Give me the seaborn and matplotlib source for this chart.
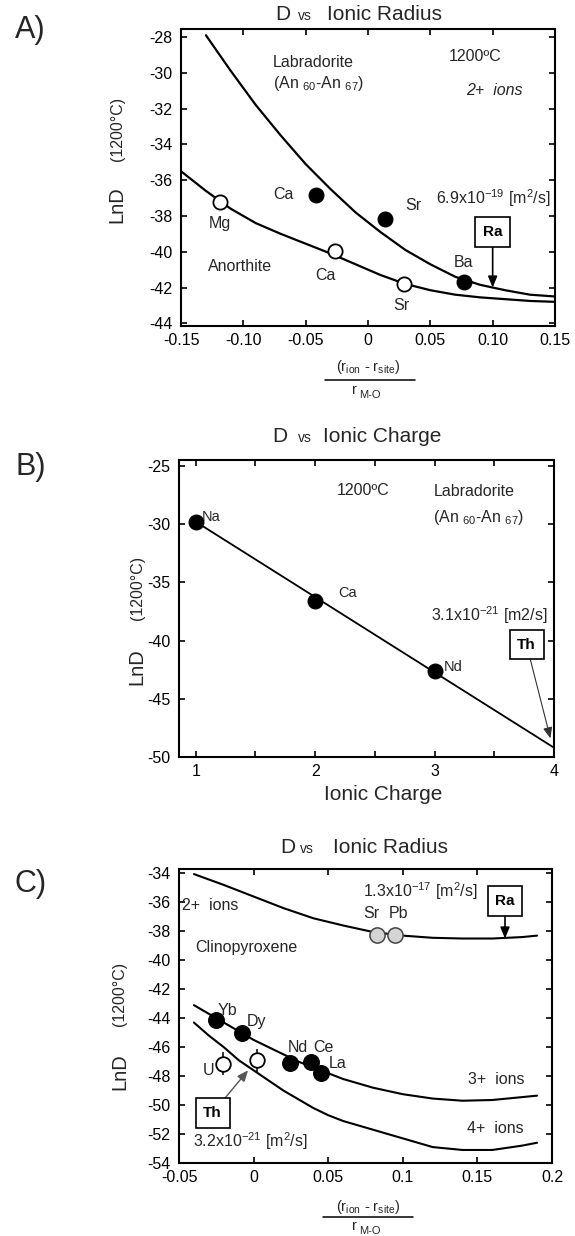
import matplotlib
matplotlib.use("Agg")
import matplotlib.pyplot as plt
import seaborn as sns
from matplotlib.lines import Line2D

sns.set_theme(style="ticks")
plt.rcParams["font.family"] = ["Liberation Sans", "DejaVu Sans"]
plt.rcParams["mathtext.fontset"] = "custom"
plt.rcParams["mathtext.rm"] = "Liberation Sans"
plt.rcParams["mathtext.it"] = "Liberation Sans:italic"
plt.rcParams["mathtext.default"] = "regular"
plt.rcParams["axes.unicode_minus"] = False

# ---------------- data ----------------
# A) plagioclase, 2+ ions vs normalised lattice strain
a_lab_fit_x = [-0.13, -0.11, -0.09, -0.07, -0.05, -0.03, -0.01, 0.01, 0.03,
               0.05, 0.07, 0.09, 0.11, 0.13, 0.15]
a_lab_fit_y = [-27.9, -29.9, -31.8, -33.5, -35.1, -36.5, -37.8, -38.9, -39.9,
               -40.7, -41.4, -41.85, -42.15, -42.4, -42.5]
a_an_fit_x = [-0.15, -0.13, -0.11, -0.09, -0.07, -0.05, -0.03, -0.01, 0.01,
              0.03, 0.05, 0.07, 0.09, 0.11, 0.13, 0.15]
a_an_fit_y = [-35.5, -36.6, -37.6, -38.4, -39.0, -39.55, -40.1, -40.7, -41.3,
              -41.8, -42.15, -42.4, -42.55, -42.65, -42.75, -42.8]
a_lab_ions = ["Ca", "Sr", "Ba"]
a_lab_strain = [-0.042, 0.0137, 0.077]
a_lab_lnD = [-36.85, -38.15, -41.7]
a_an_ions = ["Mg", "Ca", "Sr"]
a_an_strain = [-0.1185, -0.0266, 0.029]
a_an_lnD = [-37.2, -39.95, -41.8]
a_ra_strain, a_ra_lnD = 0.10, -42.0

# B) labradorite, lnD vs ionic charge
b_ions = ["Na", "Ca", "Nd"]
b_charge = [1, 2, 3]
b_lnD = [-29.8, -36.6, -42.6]
b_fit_charge = [1, 4]
b_fit_lnD = [-29.8, -49.2]
b_th_charge, b_th_lnD = 3.97, -48.4

# C) clinopyroxene, 2+, 3+, 4+ ions
c2_fit_x = [-0.04, -0.02, 0.0, 0.02, 0.04, 0.06, 0.08, 0.10, 0.12, 0.14,
            0.16, 0.18, 0.19]
c2_fit_y = [-34.05, -34.8, -35.6, -36.4, -37.1, -37.6, -38.05, -38.3, -38.45,
            -38.5, -38.5, -38.4, -38.3]
c3_fit_x = [-0.04, -0.025, -0.01, 0.0, 0.01, 0.02, 0.03, 0.04, 0.05, 0.06,
            0.08, 0.10, 0.12, 0.14, 0.16, 0.18, 0.19]
c3_fit_y = [-43.1, -44.0, -44.9, -45.5, -46.0, -46.5, -47.0, -47.4, -47.8,
            -48.2, -48.8, -49.25, -49.55, -49.7, -49.65, -49.45, -49.35]
c4_fit_x = [-0.04, -0.03, -0.02, -0.01, 0.0, 0.01, 0.02, 0.03, 0.04, 0.05,
            0.06, 0.08, 0.10, 0.12, 0.14, 0.16, 0.18, 0.19]
c4_fit_y = [-44.3, -45.2, -46.0, -46.9, -47.6, -48.3, -49.0, -49.6, -50.2,
            -50.7, -51.1, -51.7, -52.3, -52.9, -53.1, -53.1, -52.8, -52.6]
c2_ions = ["Sr", "Pb"]
c2_strain = [0.083, 0.095]
c2_lnD = [-38.25, -38.25]
c3_ions = ["Yb", "Dy", "Nd", "Ce", "La"]
c3_strain = [-0.025, -0.0077, 0.0245, 0.0386, 0.0453]
c3_lnD = [-44.1, -45.0, -47.1, -47.0, -47.8]
c4_strain = [-0.0205, 0.0023]
c4_lnD = [-47.15, -46.9]
c4_err = [0.8, 0.8]
c_ra_strain, c_ra_lnD = 0.1685, -38.5
c_th_strain, c_th_lnD = -0.0037, -47.6

# ---------------- figure ----------------
W, H = 575, 1236
fig = plt.figure(figsize=(W / 100, H / 100), dpi=100)
fig.patch.set_facecolor("white")


def fx(px):
    return px / W


def fy(py):
    return 1 - py / H


def make_axes(l, t, r, b):
    ax = fig.add_axes([fx(l), fy(b), fx(r) - fx(l), fy(t) - fy(b)])
    ax.set_facecolor("white")
    for s in ax.spines.values():
        s.set_visible(True)
        s.set_linewidth(1.5)
        s.set_color("black")
    ax.tick_params(which="both", direction="in", top=True, right=True,
                   bottom=True, left=True, length=4, width=1.2,
                   labelsize=11.5, pad=5, color="black", labelcolor="black")
    ax.tick_params(axis="y", pad=6)
    ax.grid(False)
    return ax


def ylabel(xp, y_ln, y_t):
    fig.text(fx(xp), fy(y_ln), "LnD", rotation=90, ha="center", va="center",
             fontsize=14.5)
    fig.text(fx(xp), fy(y_t), "(1200°C)", rotation=90, ha="center",
             va="center", fontsize=11.5)


def title(x_d, x_vs, x_main, base, main):
    fig.text(fx(x_d), fy(base), "D", ha="left", va="baseline", fontsize=15)
    fig.text(fx(x_vs), fy(base), "vs", ha="left", va="baseline", fontsize=10)
    fig.text(fx(x_main), fy(base), main, ha="left", va="baseline", fontsize=15)


def strain_label(xc, y_num, y_bar, y_den, x0, x1):
    fig.text(fx(xc), fy(y_num), "(r$_{ion}$ - r$_{site}$)", ha="center",
             va="center", fontsize=10.5)
    fig.add_artist(Line2D([fx(x0), fx(x1)], [fy(y_bar), fy(y_bar)],
                          transform=fig.transFigure, color="black", lw=1.1))
    fig.text(fx(xc - 14), fy(y_den - 4), "r", ha="center", va="center",
             fontsize=10.5)
    fig.text(fx(xc - 9), fy(y_den + 1), "M-O", ha="left", va="center",
             fontsize=8)


def boxed_arrow(ax, label, xy, xytext, lw_arrow=1.2, color="black",
                head=True):
    ax.annotate(label, xy=xy, xytext=xytext, ha="center", va="center",
                fontsize=11, fontweight="bold", color="black",
                bbox=dict(boxstyle="square,pad=0.5", fc="white", ec="black",
                          lw=1.2),
                arrowprops=dict(arrowstyle="-|>,head_length=0.6,head_width=0.25",
                                color=color, lw=lw_arrow, shrinkA=0,
                                shrinkB=0),
                zorder=5)


# ---------- A ----------
axA = make_axes(181, 29, 555, 326)
sns.lineplot(x=a_lab_fit_x, y=a_lab_fit_y, ax=axA, color="black", lw=1.6,
             estimator=None, sort=False, legend=False)
sns.lineplot(x=a_an_fit_x, y=a_an_fit_y, ax=axA, color="black", lw=1.6,
             estimator=None, sort=False, legend=False)
sns.scatterplot(x=a_lab_strain, y=a_lab_lnD, ax=axA, s=110, color="black",
                edgecolor="black", linewidth=1, zorder=4, legend=False)
sns.scatterplot(x=a_an_strain, y=a_an_lnD, ax=axA, s=105, color="white",
                edgecolor="black", linewidth=1.3, zorder=4, legend=False)
axA.set_xlim(-0.15, 0.15)
axA.set_ylim(-44.15, -27.55)
axA.set_xticks([-0.15, -0.10, -0.05, 0, 0.05, 0.10, 0.15])
axA.set_xticklabels(["-0.15", "-0.10", "-0.05", "0", "0.05", "0.10", "0.15"])
axA.set_yticks(list(range(-44, -27, 2)))
axA.set_yticklabels([str(v) for v in range(-44, -27, 2)])
axA.set_xlabel("")
axA.set_ylabel("")

tA = dict(fontsize=11.5, va="center", ha="left")
axA.text(-0.0766, -29.4, "Labradorite", **tA)
axA.text(-0.0766, -30.6, "(An $_{60}$-An $_{67}$)", **tA)
axA.text(0.0645, -29.06, "1200ºC", **tA)
axA.text(0.079, -30.96, "2+  ions", fontstyle="italic", **tA)
axA.text(0.0548, -37.0, "6.9x10$^{-19}$ [m$^{2}$/s]", **tA)
axA.text(-0.0758, -36.8, a_lab_ions[0], **tA)
axA.text(0.0298, -37.4, a_lab_ions[1], **tA)
axA.text(0.0686, -40.6, a_lab_ions[2], **tA)
axA.text(-0.128, -38.4, a_an_ions[0], **tA)
axA.text(-0.128, -40.8, "Anorthite", **tA)
axA.text(-0.042, -41.3, a_an_ions[1], **tA)
axA.text(0.020, -43.0, a_an_ions[2], **tA)
boxed_arrow(axA, "Ra", (a_ra_strain, a_ra_lnD), (a_ra_strain, -38.9))

title(275, 298, 327, 20.5, "Ionic Radius")
ylabel(117, 205, 129)
strain_label(368, 367, 380, 394, 325, 415)
fig.text(fx(15), fy(30), "A)", ha="left", va="center", fontsize=22)

# ---------- B ----------
axB = make_axes(179, 460, 554, 757)
sns.lineplot(x=b_fit_charge, y=b_fit_lnD, ax=axB, color="black", lw=1.3,
             estimator=None, sort=False, legend=False)
sns.scatterplot(x=b_charge, y=b_lnD, ax=axB, s=110, color="black",
                edgecolor="black", linewidth=1, zorder=4, legend=False)
axB.set_xlim(0.86, 4.0)
axB.set_ylim(-50, -24.5)
axB.set_xticks([1, 2, 3, 4])
axB.set_xticklabels(["1", "2", "3", "4"])
axB.set_xticks([1.5, 2.5, 3.5], minor=True)
axB.set_yticks([-50, -45, -40, -35, -30, -25])
axB.set_yticklabels(["-50", "-45", "-40", "-35", "-30", "-25"])
axB.set_xlabel("")
axB.set_ylabel("")

tB = dict(fontsize=10.5, va="center", ha="left")
axB.text(1.05, -29.4, b_ions[0], **tB)
axB.text(2.19, -35.9, b_ions[1], **tB)
axB.text(3.08, -42.3, b_ions[2], **tB)
tB2 = dict(fontsize=11.5, va="center", ha="left")
axB.text(2.18, -27.1, "1200ºC", **tB2)
axB.text(2.99, -27.2, "Labradorite", **tB2)
axB.text(2.99, -29.4, "(An $_{60}$-An $_{67}$)", **tB2)
axB.text(2.97, -37.8, "3.1x10$^{-21}$ [m2/s]", **tB2)
boxed_arrow(axB, "Th", (b_th_charge, b_th_lnD), (3.77, -40.35),
            lw_arrow=0.8, color="#333333")

title(272, 298, 323, 442, "Ionic Charge")
ylabel(137, 667, 588)
fig.text(fx(383), fy(795), "Ionic Charge", ha="center", va="center",
         fontsize=15)
fig.text(fx(15), fy(467), "B)", ha="left", va="center", fontsize=22)

# ---------- C ----------
axC = make_axes(179, 869, 552, 1163)
for fx_, fy_ in [(c2_fit_x, c2_fit_y), (c3_fit_x, c3_fit_y),
                 (c4_fit_x, c4_fit_y)]:
    sns.lineplot(x=fx_, y=fy_, ax=axC, color="black", lw=1.5,
                 estimator=None, sort=False, legend=False)
sns.scatterplot(x=c2_strain, y=c2_lnD, ax=axC, s=120, color="#d4d4d4",
                edgecolor="#444444", linewidth=1.1, zorder=4, legend=False)
sns.scatterplot(x=c3_strain, y=c3_lnD, ax=axC, s=125, color="black",
                edgecolor="black", linewidth=1, zorder=4, legend=False)
axC.errorbar(c4_strain, c4_lnD, yerr=c4_err, fmt="none", ecolor="black",
             elinewidth=1.1, capsize=0, zorder=3)
sns.scatterplot(x=c4_strain, y=c4_lnD, ax=axC, s=110, color="white",
                edgecolor="black", linewidth=1.3, zorder=4, legend=False)
axC.set_xlim(-0.05, 0.2)
axC.set_ylim(-54, -33.7)
axC.set_xticks([-0.05, 0, 0.05, 0.1, 0.15, 0.2])
axC.set_xticklabels(["-0.05", "0", "0.05", "0.1", "0.15", "0.2"])
axC.set_yticks(list(range(-54, -33, 2)))
axC.set_yticklabels([str(v) for v in range(-54, -33, 2)])
axC.set_xlabel("")
axC.set_ylabel("")

tC = dict(fontsize=11.5, va="center", ha="left")
axC.text(0.0735, -35.2, "1.3x10$^{-17}$ [m$^{2}$/s]", **tC)
axC.text(0.0789, -36.8, c2_ions[0], fontsize=11.5, va="center", ha="center")
axC.text(0.097, -36.8, c2_ions[1], fontsize=11.5, va="center", ha="center")
axC.text(-0.048, -36.2, "2+  ions", **tC)
axC.text(-0.039, -39.1, "Clinopyroxene", **tC)
axC.text(-0.0238, -43.5, c3_ions[0], **tC)
axC.text(-0.0044, -44.2, c3_ions[1], **tC)
axC.text(0.0232, -46.0, c3_ions[2], **tC)
axC.text(0.040, -46.0, c3_ions[3], **tC)
axC.text(0.0507, -47.15, c3_ions[4], **tC)
axC.text(-0.0339, -47.6, "U", **tC)
axC.text(0.144, -48.2, "3+  ions", **tC)
axC.text(0.143, -51.6, "4+  ions", **tC)
axC.text(-0.0406, -52.5, "3.2x10$^{-21}$ [m$^{2}$/s]", **tC)
boxed_arrow(axC, "Ra", (c_ra_strain, c_ra_lnD), (c_ra_strain, -35.9))
boxed_arrow(axC, "Th", (c_th_strain, c_th_lnD), (-0.0275, -50.55),
            lw_arrow=1.0, color="#555555")

title(280, 300, 333, 853, "Ionic Radius")
ylabel(120, 1072, 994)
strain_label(368, 1207, 1217, 1230, 323, 413)
fig.text(fx(15), fy(884), "C)", ha="left", va="center", fontsize=22)

fig.savefig("out.png", dpi=100, facecolor="white")
